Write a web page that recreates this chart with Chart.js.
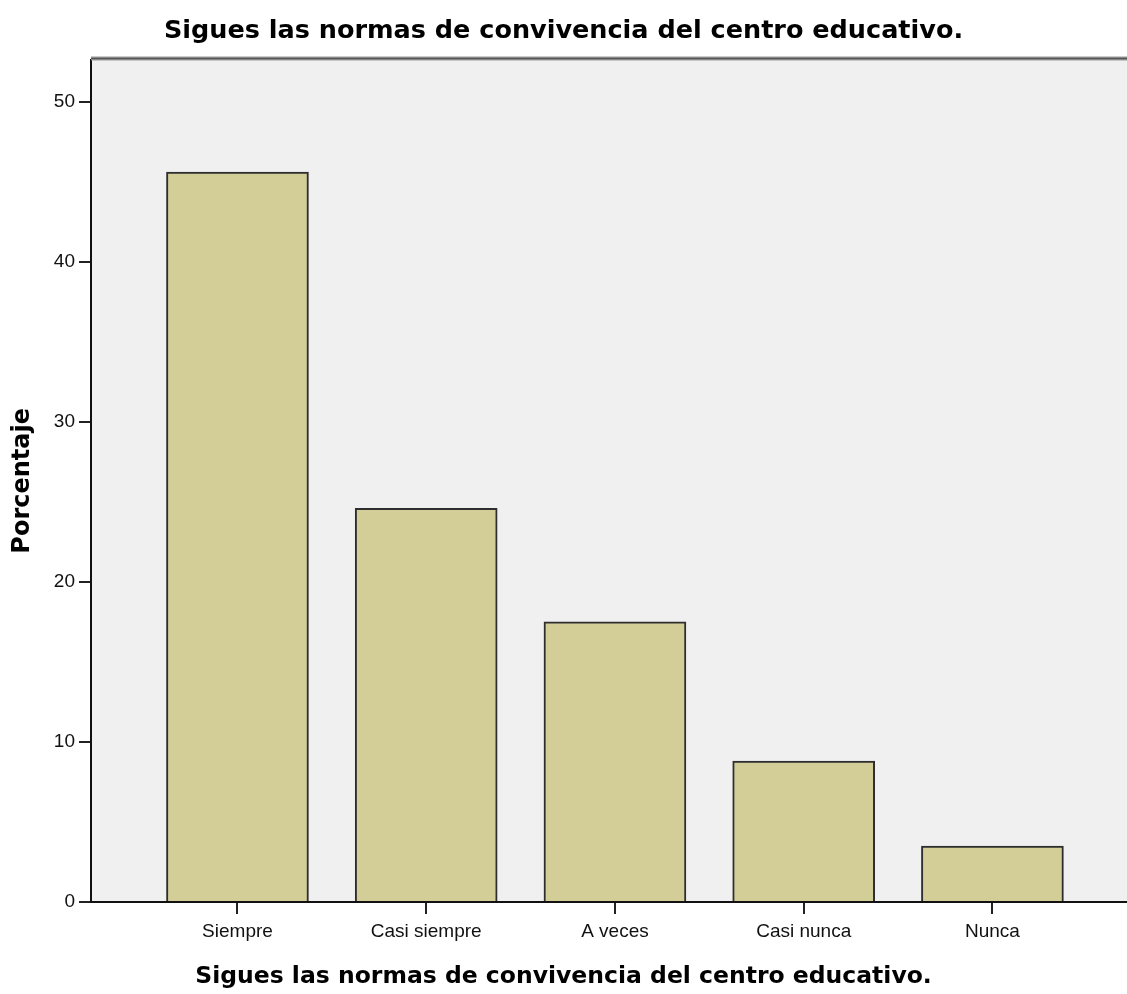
<!DOCTYPE html>
<html>
<head>
<meta charset="utf-8">
<script src="https://cdn.jsdelivr.net/npm/chart.js@4/dist/chart.umd.min.js"></script>
<style>
html,body{margin:0;padding:0;background:#fff;}
#c{display:block;}
</style>
</head>
<body>
<canvas id="c" width="1127" height="994"></canvas>
<script>
const categories = ["Siempre", "Casi siempre", "A veces", "Casi nunca", "Nunca"];
const percentages = [45.6, 24.6, 17.5, 8.8, 3.5];
const yTickValues = [0, 10, 20, 30, 40, 50];
const chartTitle = "Sigues las normas de convivencia del centro educativo.";
const xTitle = "Sigues las normas de convivencia del centro educativo.";
const yTitle = "Porcentaje";

const plotBg = {
  id: 'plotBg',
  beforeDraw(chart) {
    const {ctx, chartArea: a} = chart;
    ctx.save();
    ctx.fillStyle = '#f0f0f0';
    ctx.fillRect(a.left, a.top, a.right - a.left, a.bottom - a.top);
    ctx.restore();
  },
  afterDraw(chart) {
    const {ctx, chartArea: a} = chart;
    ctx.save();
    ctx.strokeStyle = '#9a9a9a';
    ctx.lineWidth = 4;
    ctx.beginPath();
    ctx.moveTo(a.left, a.top - 1);
    ctx.lineTo(a.right, a.top - 1);
    ctx.stroke();
    ctx.strokeStyle = '#555';
    ctx.lineWidth = 1.5;
    ctx.beginPath();
    ctx.moveTo(a.left, a.top - 1);
    ctx.lineTo(a.right, a.top - 1);
    ctx.stroke();
    ctx.restore();
  }
};

new Chart(document.getElementById('c'), {
  type: 'bar',
  data: {
    datasets: [{
      data: categories.map((c, i) => ({x: i, y: percentages[i]})),
      backgroundColor: '#d3ce98',
      borderColor: '#2e2e2e',
      borderWidth: 2,
      barThickness: 142
    }]
  },
  options: {
    responsive: false,
    animation: false,
    layout: {padding: 0},
    plugins: {
      legend: {display: false},
      tooltip: {enabled: false},
      title: {
        display: true,
        text: chartTitle,
        color: '#000',
        font: {family: 'DejaVu Sans', size: 25.5, weight: 'bold', lineHeight: 1.2},
        padding: {top: 16, bottom: 13}
      },
      subtitle: {
        display: true,
        position: 'bottom',
        text: xTitle,
        color: '#000',
        font: {family: 'DejaVu Sans', size: 23.5, weight: 'bold', lineHeight: 1.2},
        padding: {top: 0, bottom: 3}
      }
    },
    scales: {
      x: {
        type: 'linear',
        offset: false,
        min: -0.776,
        max: 4.713,
        afterFit(s) { s.height = 92 - (23.5 * 1.2 + 3); },
        afterBuildTicks(s) { s.ticks = categories.map((c, i) => ({value: i})); },
        grid: {offset: false, drawOnChartArea: false, drawTicks: true, tickLength: 12, color: '#222', lineWidth: 2},
        border: {display: true, color: '#111', width: 2},
        ticks: {
          color: '#111',
          font: {family: 'Liberation Sans', size: 19},
          padding: 6,
          maxRotation: 0,
          autoSkip: false,
          callback: (v) => categories[v]
        }
      },
      y: {
        min: 0,
        max: 52.625,
        afterFit(s) { s.width = 91; },
        afterBuildTicks(s) { s.ticks = yTickValues.map(v => ({value: v})); },
        grid: {drawOnChartArea: false, drawTicks: true, tickLength: 12, color: '#222', lineWidth: 2},
        border: {display: true, color: '#111', width: 2},
        ticks: {
          color: '#111',
          font: {family: 'Liberation Sans', size: 19},
          padding: 4
        },
        title: {
          display: true,
          text: yTitle,
          color: '#000',
          font: {family: 'DejaVu Sans', size: 24, weight: 'bold', lineHeight: 1.2},
          padding: {top: 8, bottom: 0}
        }
      }
    }
  },
  plugins: [plotBg]
});
</script>
</body>
</html>
